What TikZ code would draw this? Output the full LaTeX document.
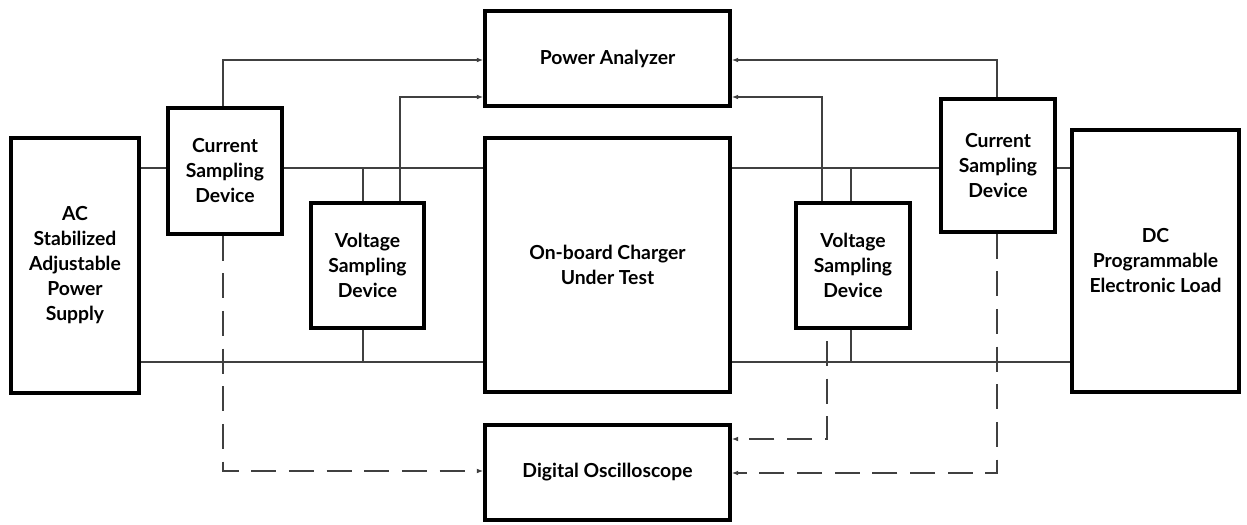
\documentclass[tikz,border=0pt]{standalone}
\usepackage{fontspec}
\setmainfont{Lato}
\usetikzlibrary{arrows.meta,calc}
\begin{document}
\begin{tikzpicture}[x=0.75pt,y=-0.75pt,
  box/.style={draw=black,line width=2.3pt,fill=white,align=center,inner sep=0pt,
    font=\fontsize{14.5pt}{18.75pt}\selectfont\bfseries},
  wire/.style={draw=black!75,line width=1.1pt},
  feed/.style={wire,-{Latex[length=5pt,width=3.6pt]}},
  dashline/.style={wire,dash pattern=on 18.75pt off 9.5pt,-{Latex[length=5pt,width=3.6pt]}}]
\useasboundingbox (0,0) rectangle (1247,525);
% boxes
\node[box,minimum width=96pt,minimum height=191.25pt] (ac) at (75,265.5) {AC\\Stabilized\\Adjustable\\Power\\Supply};
\node[box,minimum width=85.5pt,minimum height=94.5pt] (cl) at (225,171) {Current\\Sampling\\Device};
\node[box,minimum width=84.75pt,minimum height=93.75pt] (vl) at (367.5,265.5) {Voltage\\Sampling\\Device};
\node[box,minimum width=183.75pt,minimum height=71.25pt] (pa) at (607.5,58.5) {Power Analyzer};
\node[box,minimum width=183.75pt,minimum height=190.5pt] (ch) at (607.5,265) {On-board Charger\\Under Test};
\node[box,minimum width=183.75pt,minimum height=71.25pt] (os) at (607.5,472.5) {Digital Oscilloscope};
\node[box,minimum width=85.5pt,minimum height=93.75pt] (vr) at (853,265.5) {Voltage\\Sampling\\Device};
\node[box,minimum width=85.5pt,minimum height=99.75pt] (cr) at (998,165.5) {Current\\Sampling\\Device};
\node[box,minimum width=125.25pt,minimum height=196.5pt] (dc) at (1155.5,261) {DC\\Programmable\\Electronic Load};
% reference levels
\coordinate (wt) at (0,168);
\coordinate (wb) at (0,362);
\coordinate (tapl) at (363,0);
\coordinate (tapr) at (851,0);
\coordinate (fvl) at (400,0);
\coordinate (fvr) at (822,0);
\coordinate (fcl) at (223,0);
\coordinate (fcr) at (997,0);
\coordinate (dvr) at (827,341);
% main wires
\draw[wire] (ac.east |- wt) -- (cl.west |- wt);
\draw[wire] (cl.east |- wt) -- (ch.west |- wt);
\draw[wire] (ch.east |- wt) -- (cr.west |- wt);
\draw[wire] (cr.east |- wt) -- (dc.west |- wt);
\draw[wire] (ac.east |- wb) -- (ch.west |- wb);
\draw[wire] (ch.east |- wb) -- (dc.west |- wb);
% taps
\draw[wire] (tapl |- wt) -- (tapl |- vl.north);
\draw[wire] (tapl |- vl.south) -- (tapl |- wb);
\draw[wire] (tapr |- wt) -- (tapr |- vr.north);
\draw[wire] (tapr |- vr.south) -- (tapr |- wb);
% feeds to power analyzer
\draw[feed] (fcl |- cl.north) |- ($(pa.west)+(0,1.5)$);
\draw[feed] (fvl |- vl.north) |- ($(pa.west)+(0,38.5)$);
\draw[feed] (fvr |- vr.north) |- ($(pa.east)+(0,38.5)$);
\draw[feed] (fcr |- cr.north) |- ($(pa.east)+(0,1.5)$);
% dashed to oscilloscope
\draw[dashline] (fcl |- cl.south) |- ($(os.west)+(0,-1.5)$);
\draw[dashline] (dvr) |- ($(os.east)+(0,-33.5)$);
\draw[dashline] (fcr |- cr.south) |- ($(os.east)+(0,0.5)$);
\end{tikzpicture}
\end{document}
